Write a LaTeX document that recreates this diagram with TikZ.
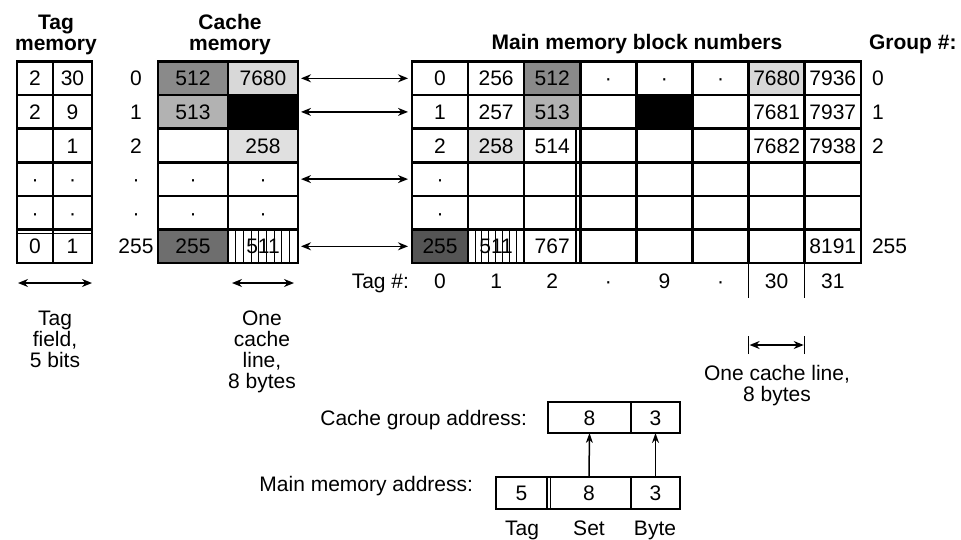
\documentclass[tikz,border=0pt]{standalone}
\usepackage{fontspec}
\setmainfont{Liberation Sans}
\usetikzlibrary{arrows.meta,calc}
\definecolor{gA}{HTML}{8A8A8A}
\definecolor{gB}{HTML}{B2B2B2}
\definecolor{gC}{HTML}{D8D8D8}
\definecolor{gD}{HTML}{E0E0E0}
\definecolor{gE}{HTML}{6E6E6E}
\definecolor{gF}{HTML}{555555}
\newcommand\mrow[9]{%
  \foreach \i/\t in {0/{#2},1/{#3},2/{#4},3/{#5},4/{#6},5/{#7},6/{#8},7/{#9}}{%
    \node[cell, minimum width=56.1pt, f-#1-\i/.try] (m-#1-\i) at ({412+56.1*\i},{61.5+33.6*#1}) {\t};}}
\newcommand\crow[6]{%
  \node[cell, minimum width=36pt] (t-#1-0) at (17,{61.5+33.6*#1}) {#2};
  \node[cell, minimum width=39pt] (t-#1-1) at (53,{61.5+33.6*#1}) {#3};
  \node[txt] (r-#1) at (136,{78.3+33.6*#1}) {#4};
  \node[cell, minimum width=70pt, c-#1-0/.try] (c-#1-0) at (158,{61.5+33.6*#1}) {#5};
  \node[cell, minimum width=70pt, c-#1-1/.try] (c-#1-1) at (228,{61.5+33.6*#1}) {#6};}
\begin{document}
\begin{tikzpicture}[x=1pt,y=-1pt,
  every node/.style={font=\fontsize{21}{21}\selectfont, inner sep=0pt, outer sep=0pt},
  txt/.style={text height=15pt, text depth=0pt},
  cell/.style={txt, draw, line width=2.5pt, anchor=north west, minimum height=33.6pt},
  abox/.style={txt, draw, line width=2.3pt, anchor=north west},
  title/.style={font=\fontsize{21}{21}\selectfont\bfseries, align=center},
  lbl/.style={align=center, font=\fontsize{21}{21}\selectfont},
  arr/.style={line width=1.5pt, {Stealth[length=10pt,width=8pt]}-{Stealth[length=10pt,width=8pt]}},
  up/.style={line width=1.5pt, -{Stealth[length=10pt,width=7pt]}},
  thin/.style={line width=1.5pt},
  f-0-2/.style={fill=gA}, f-1-2/.style={fill=gB}, f-0-6/.style={fill=gC},
  f-1-4/.style={fill=black}, f-2-1/.style={fill=gD}, f-5-0/.style={fill=gF},
  c-0-0/.style={fill=gA}, c-0-1/.style={fill=gC}, c-1-0/.style={fill=gB},
  c-1-1/.style={fill=black}, c-2-1/.style={fill=gD}, c-5-0/.style={fill=gE}
]
\useasboundingbox (0,0) rectangle (961,539);

% titles
\node[title] (ttag) at (56,35) {Tag\\memory};
\node[title] (tcache) at (230,35) {Cache\\memory};
\node[title] (tmain) at (637,44) {Main memory block numbers};
\node[title, anchor=west] (tgroup) at (869,44) {Group \#:};

% tag memory, set numbers, cache memory
\crow{0}{2}{30}{0}{512}{7680}
\crow{1}{2}{9}{1}{513}{}
\crow{2}{}{1}{2}{}{258}
\crow{3}{·}{·}{·}{·}{·}
\crow{4}{·}{·}{·}{·}{·}
\crow{5}{0}{1}{255}{255}{}
\draw[thin] (17,233.5) -- (92,233.5);

% main memory
\mrow{0}{0}{256}{512}{·}{·}{·}{7680}{7936}
\mrow{1}{1}{257}{513}{}{}{}{7681}{7937}
\mrow{2}{2}{258}{514}{}{}{}{7682}{7938}
\mrow{3}{·}{}{}{}{}{}{}{}
\mrow{4}{·}{}{}{}{}{}{}{}
\mrow{5}{255}{}{767}{}{}{}{}{8191}
\draw[thin] (576,128.7) -- (576,263.1);

% striped 511 cells
\foreach \k in {1,...,8}
  \draw[line width=0.9pt] ([xshift=\k*7.7pt]c-5-1.north west) -- ([xshift=\k*7.7pt]c-5-1.south west);
\foreach \k in {1,...,7}
  \draw[line width=0.9pt] ([xshift=\k*6.9pt]m-5-1.north west) -- ([xshift=\k*6.9pt]m-5-1.south west);
\node[txt] (c511) at (c-5-1) {511};
\node[txt] (m511) at (m-5-1) {511};

% cache <-> main arrows
\foreach \j in {0,1,3,5}
  \draw[arr, shorten <=3pt, shorten >=4pt] (c-\j-1.east) -- (m-\j-0.west);

% group numbers
\node[txt, anchor=west] (g0) at (872,78.3) {0};
\node[txt, anchor=west] (g1) at (872,111.9) {1};
\node[txt, anchor=west] (g2) at (872,145.5) {2};
\node[txt, anchor=west] (g255) at (872,246.3) {255};

% tag numbers
\node[txt, anchor=east] (tagh) at (409,281) {Tag \#:};
\foreach \i/\t in {0/0,1/1,2/2,3/·,4/9,5/·,6/30,7/31}
  \node[txt] (tg-\i) at ({440.05+56.1*\i},281) {\t};
\draw[thin] (m-5-6.south west) -- ++(0,35);
\draw[thin] (m-5-7.south west) -- ++(0,35);

% field width arrows
\coordinate (tf1) at (18,283); \coordinate (tf2) at (92,283);
\draw[arr] (tf1) -- (tf2);
\node[lbl, anchor=north] (tfl) at (55,311) {Tag\\field,\\5 bits};
\coordinate (cl1) at (232,283); \coordinate (cl2) at (294,283);
\draw[arr] (cl1) -- (cl2);
\node[lbl, anchor=north] (cll) at (262,311) {One\\cache\\line,\\8 bytes};

% one cache line on the right
\coordinate (rb1) at (748.6,345); \coordinate (rb2) at (804.7,345);
\draw[thin] ([yshift=-9pt]rb1) -- ([yshift=9pt]rb1);
\draw[thin] ([yshift=-9pt]rb2) -- ([yshift=9pt]rb2);
\draw[arr] ([xshift=1pt]rb1) -- ([xshift=-1pt]rb2);
\node[lbl, anchor=north] (rl) at (777,365) {One cache line,\\8 bytes};

% addresses
\node[txt, anchor=east] (cga) at (527,418) {Cache group address:};
\node[abox, minimum width=83pt, minimum height=31pt] (ca8) at (548,402) {8};
\node[abox, minimum width=49pt, minimum height=31pt] (ca3) at (631,402) {3};
\node[txt, anchor=east] (mma) at (473,484) {Main memory address:};
\node[abox, minimum width=51pt, minimum height=32pt] (ma5) at (496,477) {5};
\node[abox, minimum width=84pt, minimum height=32pt] (ma8) at (547,477) {8};
\node[abox, minimum width=49pt, minimum height=32pt] (ma3) at (631,477) {3};
\draw[line width=1pt] (550.5,477) -- (550.5,509);
\draw[up] (ma8.north) -- (ca8.south);
\draw[up] (ma3.north) -- (ca3.south);
\node[anchor=base] (ltag) at (522,535) {Tag};
\node[anchor=base] (lset) at (589,535) {Set};
\node[anchor=base] (lbyte) at (655,535) {Byte};
\end{tikzpicture}
\end{document}
